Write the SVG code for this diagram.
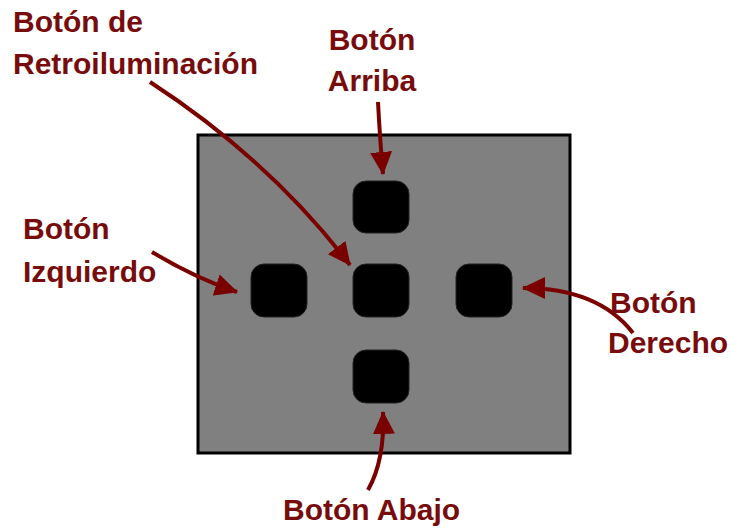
<svg xmlns="http://www.w3.org/2000/svg" width="746" height="529" viewBox="0 0 746 529">
<defs>
<style>
.lbl{font-family:"Liberation Sans",Arial,sans-serif;font-weight:bold;font-size:30px;fill:#780c0c}
.btn{fill:#000;stroke:#222;stroke-width:1}
.arr{fill:none;stroke:#7a0000;stroke-width:4;marker-end:url(#ah)}
</style>
<marker id="ah" markerUnits="userSpaceOnUse" markerWidth="24" markerHeight="24" viewBox="0 0 24 24" refX="22" refY="12" orient="auto">
<path d="M0,1 L23,12 L0,23 Z" fill="#7a0000"/>
</marker>
</defs>
<rect x="0" y="0" width="746" height="529" fill="#fff"/>
<g id="panel">
<rect x="198" y="135" width="372" height="318" fill="#808080" stroke="#000" stroke-width="3"/>
</g>
<g id="btn-up"><rect class="btn" x="353" y="181" width="56" height="52" rx="13"/></g>
<g id="btn-center"><rect class="btn" x="353" y="264" width="56" height="53" rx="13"/></g>
<g id="btn-left"><rect class="btn" x="251" y="264" width="56" height="53" rx="13"/></g>
<g id="btn-right"><rect class="btn" x="456" y="264" width="56" height="53" rx="13"/></g>
<g id="btn-down"><rect class="btn" x="353" y="350" width="56" height="53" rx="13"/></g>
<g id="connectors">
<path class="arr" d="M378,102 Q380,140 383,174"/>
<path class="arr" d="M150,82 Q270,160 350,265"/>
<path class="arr" d="M152,252 Q195,278 237,292"/>
<path class="arr" d="M633,333 Q598,288 523,288"/>
<path class="arr" d="M368,490 Q385,460 383,412"/>
</g>
<g id="label-retro">
<text class="lbl" x="13" y="32">Botón de</text>
<text class="lbl" x="13" y="74">Retroiluminación</text>
</g>
<g id="label-up">
<text class="lbl" x="372" y="50" text-anchor="middle">Botón</text>
<text class="lbl" x="372" y="91" text-anchor="middle">Arriba</text>
</g>
<g id="label-left">
<text class="lbl" x="23" y="239">Botón</text>
<text class="lbl" x="23" y="282">Izquierdo</text>
</g>
<g id="label-right">
<text class="lbl" x="610" y="313">Botón</text>
<text class="lbl" x="608" y="353">Derecho</text>
</g>
<g id="label-down">
<text class="lbl" x="283" y="520">Botón Abajo</text>
</g>
</svg>
